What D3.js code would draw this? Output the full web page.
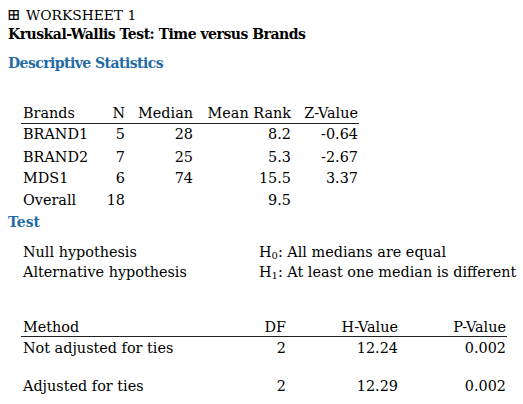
<!DOCTYPE html>
<html>
<head>
<meta charset="utf-8">
<script src="https://cdn.jsdelivr.net/npm/d3@7"></script>
<style>
  body { margin: 0; background: #fff; }
  text { font-family: "DejaVu Serif", serif; fill: #000; }
</style>
</head>
<body>
<div id="chart"></div>
<script>
// descriptive statistics
const brands = ['BRAND1', 'BRAND2', 'MDS1', 'Overall']
const nValues = [5, 7, 6, 18]
const medians = [28, 25, 74, null]
const meanRanks = [8.2, 5.3, 15.5, 9.5]
const zValues = [-0.64, -2.67, 3.37, null]
const descHeaders = ['Brands', 'N', 'Median', 'Mean Rank', 'Z-Value']

// hypotheses
const hypLabels = ['Null hypothesis', 'Alternative hypothesis']
const hypSubs = ['0', '1']
const hypTexts = [': All medians are equal', ': At least one median is different']

// test results
const methods = ['Not adjusted for ties', 'Adjusted for ties']
const dfValues = [2, 2]
const hValues = [12.24, 12.29]
const pValues = [0.002, 0.002]
const testHeaders = ['Method', 'DF', 'H-Value', 'P-Value']

const width = 523, height = 404
const fs = 14.4

const svg = d3.select('#chart').append('svg')
  .attr('width', width)
  .attr('height', height)

// titles
svg.append('text').attr('x', 7).attr('y', 20).attr('font-size', 16)
  .text('\u229E')
svg.append('text').attr('x', 26).attr('y', 20).attr('font-size', 13.8)
  .text('WORKSHEET 1')
svg.append('text').attr('x', 8).attr('y', 39).attr('font-size', 14)
  .attr('font-weight', 'bold').attr('letter-spacing', -0.5)
  .text('Kruskal-Wallis Test: Time versus Brands')
svg.append('text').attr('x', 8).attr('y', 68).attr('font-size', 14)
  .attr('font-weight', 'bold').attr('letter-spacing', -0.55)
  .style('fill', '#1f6ca6')
  .text('Descriptive Statistics')
svg.append('text').attr('x', 8).attr('y', 227).attr('font-size', 14)
  .attr('font-weight', 'bold').style('fill', '#1f6ca6')
  .text('Test')

// descriptive table scales
const descX = d3.scaleOrdinal()
  .domain(descHeaders)
  .range([23, 125, 193, 291, 358])
const descY = d3.scaleOrdinal()
  .domain(['header'].concat(brands))
  .range([118, 139, 162, 183, 205])

const descFmt = [d => d, d => d, d => d == null ? '' : d, d => d.toFixed(1), d => d == null ? '' : d.toFixed(2)]
const descCols = [brands, nValues, medians, meanRanks, zValues]

const desc = svg.append('g').attr('font-size', fs)

desc.selectAll('.head')
  .data(descHeaders)
  .join('text')
  .attr('class', 'head')
  .attr('x', d => descX(d))
  .attr('y', descY('header'))
  .attr('text-anchor', (d, i) => i == 0 ? 'start' : 'end')
  .text(d => d)

desc.append('line')
  .attr('x1', 21).attr('x2', 359)
  .attr('y1', 123.5).attr('y2', 123.5)
  .attr('stroke', '#222').attr('stroke-width', 1)

descCols.forEach((col, c) => {
  desc.selectAll('.col' + c)
    .data(col)
    .join('text')
    .attr('class', 'col' + c)
    .attr('x', descX(descHeaders[c]))
    .attr('y', (d, i) => descY(brands[i]))
    .attr('text-anchor', c == 0 ? 'start' : 'end')
    .text(descFmt[c])
})

// hypotheses
const hypY = d3.scalePoint().domain(hypLabels).range([257, 277])
const hyp = svg.append('g').attr('font-size', fs)
hyp.selectAll('.lab')
  .data(hypLabels)
  .join('text')
  .attr('class', 'lab')
  .attr('x', 23)
  .attr('y', d => hypY(d))
  .text(d => d)

const hypT = hyp.selectAll('.hyp')
  .data(hypLabels)
  .join('text')
  .attr('class', 'hyp')
  .attr('x', 259)
  .attr('y', d => hypY(d))
hypT.append('tspan').text('H')
hypT.append('tspan').attr('font-size', 10).attr('dy', 2).text((d, i) => hypSubs[i])
hypT.append('tspan').attr('dy', -2).text((d, i) => hypTexts[i])

// test table scales
const testX = d3.scaleOrdinal()
  .domain(testHeaders)
  .range([23, 286, 398, 506])
const rowY = d3.scaleOrdinal()
  .domain(['header'].concat(methods))
  .range([332, 353, 391])

const testFmt = [d => d, d => d, d => d.toFixed(2), d => d.toFixed(3)]
const testCols = [methods, dfValues, hValues, pValues]

const test = svg.append('g').attr('font-size', fs)

test.selectAll('.head')
  .data(testHeaders)
  .join('text')
  .attr('class', 'head')
  .attr('x', d => testX(d))
  .attr('y', rowY('header'))
  .attr('text-anchor', (d, i) => i == 0 ? 'start' : 'end')
  .text(d => d)

test.append('line')
  .attr('x1', 21).attr('x2', 507)
  .attr('y1', 336.5).attr('y2', 336.5)
  .attr('stroke', '#222').attr('stroke-width', 1)

testCols.forEach((col, c) => {
  test.selectAll('.col' + c)
    .data(col)
    .join('text')
    .attr('class', 'col' + c)
    .attr('x', testX(testHeaders[c]))
    .attr('y', (d, i) => rowY(methods[i]))
    .attr('text-anchor', c == 0 ? 'start' : 'end')
    .text(testFmt[c])
})
</script>
</body>
</html>
